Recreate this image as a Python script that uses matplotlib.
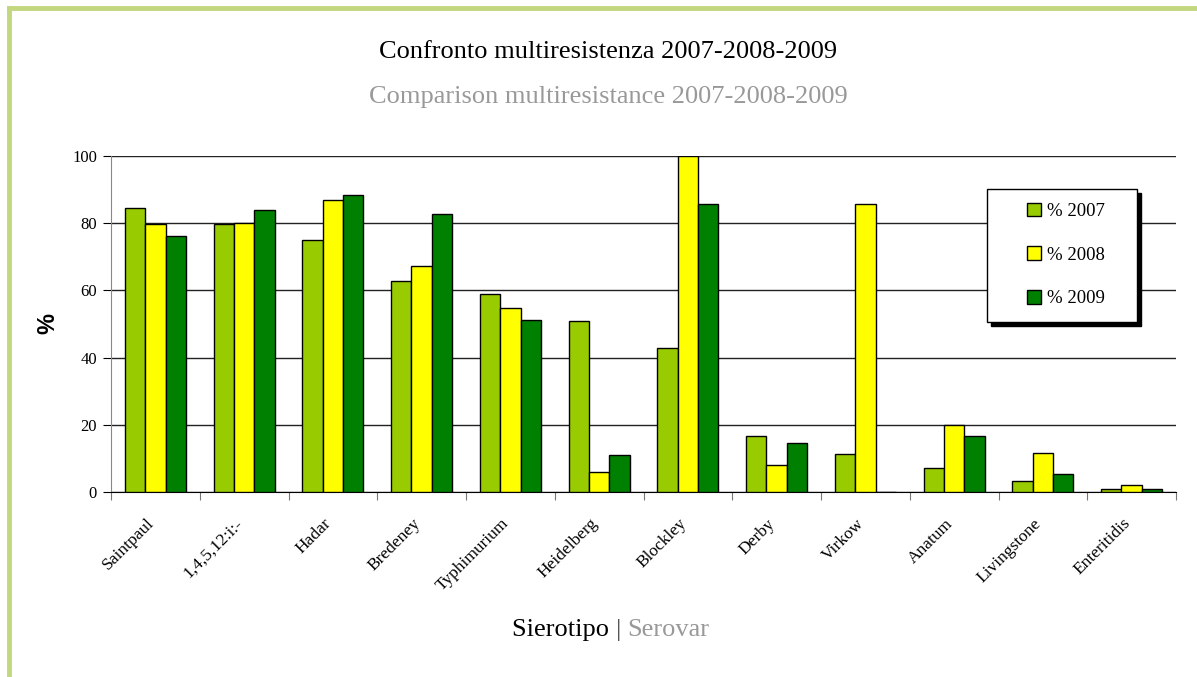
import matplotlib.pyplot as plt
import numpy as np
from matplotlib.lines import Line2D
from matplotlib.patches import Rectangle
import matplotlib.transforms as mtransforms

plt.rcParams['font.family'] = ['Liberation Serif', 'DejaVu Serif']

serovars = ['Saintpaul', '1,4,5,12:i:-', 'Hadar', 'Bredeney', 'Typhimurium',
            'Heidelberg', 'Blockley', 'Derby', 'Virkow', 'Anatum',
            'Livingstone', 'Enteritidis']
pct_2007 = [84.4, 79.7, 75.0, 62.9, 59.0, 50.9, 42.8, 16.7, 11.4, 7.0, 3.3, 0.8]
pct_2008 = [79.8, 80.1, 87.0, 67.3, 54.8, 5.9, 100.0, 8.0, 85.7, 20.0, 11.5, 2.0]
pct_2009 = [76.3, 84.0, 88.3, 82.7, 51.3, 11.0, 85.7, 14.5, 0.0, 16.6, 5.4, 0.8]
series = [('% 2007', pct_2007, '#99cc00'),
          ('% 2008', pct_2008, '#ffff00'),
          ('% 2009', pct_2009, '#008000')]

W, H = 1197, 677
fig = plt.figure(figsize=(W / 100, H / 100), dpi=100)
ax = fig.add_axes([111 / W, 1 - 492 / H, 1065 / W, 336 / H])

x = np.arange(len(serovars))
w = 0.23
for i, (lab, vals, col) in enumerate(series):
    ax.bar(x + (i - 1) * w, vals, w, color=col, edgecolor='black',
           linewidth=1.0, label=lab, zorder=3)

ax.set_xlim(-0.5, len(serovars) - 0.5)
ax.set_ylim(0, 100)
ax.set_yticks(range(0, 101, 20))
ax.yaxis.grid(True, color='#222222', linewidth=1.0, zorder=0)
for s in ['top', 'right']:
    ax.spines[s].set_visible(False)
ax.spines['left'].set_color('#888888')
ax.spines['bottom'].set_color('black')

# category ticks sit between the groups, labels at the group centres
ax.set_xticks(np.arange(-0.5, len(serovars)), minor=False)
ax.set_xticklabels([])
ax.set_xticks(x, minor=True)
ax.set_xticklabels(serovars, minor=True, rotation=45, ha='right', va='center',
                   rotation_mode='anchor', fontsize=12.5)
ax.tick_params(axis='x', which='major', direction='out', length=6,
               color='#777777')
ax.tick_params(axis='x', which='minor', length=0, pad=21)
shift = mtransforms.ScaledTranslation(-4 / 100, 0, fig.dpi_scale_trans)
for t in ax.get_xticklabels(minor=True):
    t.set_transform(t.get_transform() + shift)
ax.tick_params(axis='y', direction='out', length=6, color='black',
               labelsize=12, pad=4)

ax.set_ylabel('%', fontsize=17, fontweight='bold', family='Liberation Sans',
              labelpad=9)

# legend box with a solid drop shadow
bx0, by0, bx1, by1 = 987, 189, 1137, 322
fig.add_artist(Rectangle(((bx0 + 4) / W, 1 - (by1 + 4) / H),
                         (bx1 - bx0) / W, (by1 - by0) / H,
                         transform=fig.transFigure, facecolor='black',
                         edgecolor='black', zorder=6))
fig.add_artist(Rectangle((bx0 / W, 1 - by1 / H), (bx1 - bx0) / W,
                         (by1 - by0) / H, transform=fig.transFigure,
                         facecolor='white', edgecolor='black', linewidth=1.0,
                         zorder=7))
leg = fig.legend(loc='center', bbox_to_anchor=(1066 / W, 1 - 255 / H),
                 frameon=False, fontsize=13.5,
                 handlelength=0.75, handleheight=0.75, handletextpad=0.3,
                 labelspacing=1.4, borderpad=0)
leg.set_zorder(8)

fig.text(0.508, 1 - 52 / H, 'Confronto multiresistenza 2007-2008-2009',
         ha='center', va='center', fontsize=19, color='black')
fig.text(0.508, 1 - 97 / H, 'Comparison multiresistance 2007-2008-2009',
         ha='center', va='center', fontsize=19, color='#999999')

t1 = fig.text(512 / W, 1 - 630 / H, 'Sierotipo ', ha='left', va='center',
              fontsize=19, color='black')
fig.canvas.draw()
bb = t1.get_window_extent().transformed(fig.transFigure.inverted())
t2 = fig.text(bb.x1, 1 - 630 / H, '| ', ha='left', va='center', fontsize=19,
              color='#555555')
fig.canvas.draw()
bb2 = t2.get_window_extent().transformed(fig.transFigure.inverted())
fig.text(bb2.x1, 1 - 630 / H, 'Serovar', ha='left', va='center',
         fontsize=19, color='#999999')

# light green frame along the top and left edges
border = '#c3d77f'
fig.add_artist(Line2D([9 / W, 1], [1 - 8 / H, 1 - 8 / H],
                      transform=fig.transFigure, color=border, linewidth=3.5))
fig.add_artist(Line2D([9 / W, 9 / W], [0, 1 - 8 / H],
                      transform=fig.transFigure, color=border, linewidth=3.5))

fig.savefig('out.png', dpi=100)
